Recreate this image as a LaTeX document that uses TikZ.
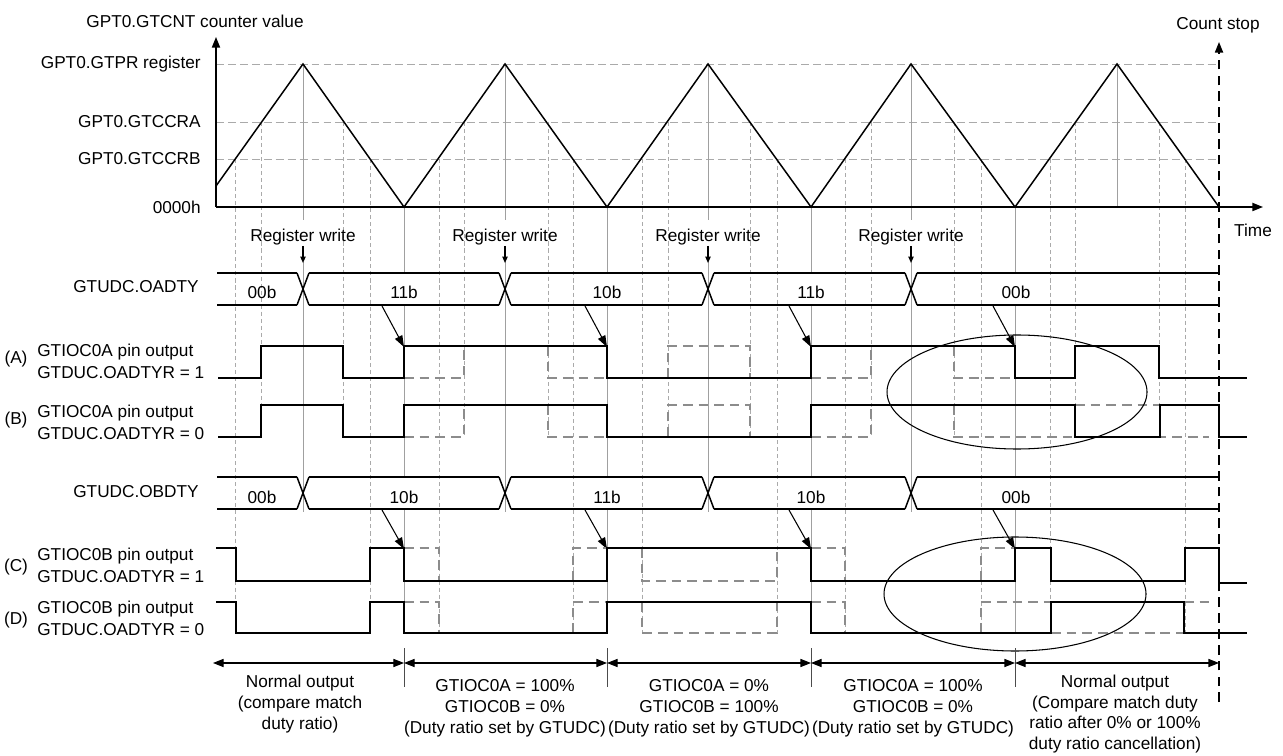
\documentclass[tikz,border=0pt]{standalone}
\usepackage{fontspec}
\setmainfont{Liberation Sans}
\usetikzlibrary{arrows.meta}
\definecolor{gridgray}{RGB}{160,160,160}
\definecolor{ghostgray}{RGB}{140,140,140}
\definecolor{refgray}{RGB}{170,170,170}
\begin{document}
\begin{tikzpicture}[x=0.02cm,y=-0.02cm,
  font=\fontsize{9.8}{12.4}\selectfont,
  wave/.style={line width=0.85pt, line join=miter},
  ghost/.style={draw=ghostgray, line width=0.85pt, dash pattern=on 5.5pt off 3.4pt},
  refline/.style={draw=refgray, line width=0.5pt, dash pattern=on 4.5pt off 2.3pt},
  gridsolid/.style={draw=gridgray, line width=0.55pt},
  griddash/.style={draw=refgray, line width=0.45pt, dash pattern=on 2.3pt off 1.7pt},
  axistip/.style={-{Triangle[length=6pt,width=4.6pt]}, line width=0.85pt},
  smalltip/.style={-{Triangle[length=3.6pt,width=3pt]}, line width=0.7pt},
  bustip/.style={-{Triangle[length=6.5pt,width=4.6pt]}, line width=0.6pt},
  rangearrow/.style={{Triangle[length=6pt,width=4.6pt]}-{Triangle[length=6pt,width=4.6pt]}, line width=0.6pt},
  lbl/.style={inner sep=0pt},
  block/.style={inner sep=0pt, align=center, font=\fontsize{9.8}{11.9}\selectfont}
]
\useasboundingbox (0,0) rectangle (1283,756);

% ---------- reference (dashed) horizontal levels
\foreach \yy in {64,122,159} {\draw[refline] (216,\yy) -- (1219,\yy);}

% ---------- vertical grid lines
% peaks (solid gray)
\foreach \p in {303,505,708,911} {
  \draw[gridsolid] (\p,64) -- (\p,220);
  \draw[gridsolid] (\p,262) -- (\p,512);
}
\draw[gridsolid] (1117,64) -- (1117,207);
% valleys (solid gray)
\foreach \v in {404,607,811,1015} {
  \draw[gridsolid] (\v,207) -- (\v,273);
  \draw[gridsolid] (\v,305) -- (\v,477);
  \draw[gridsolid] (\v,509) -- (\v,633);
}
% GTCCRA crossings
\foreach \x in {261,343,464,548,668,750,871,954,1075,1159} {\draw[griddash] (\x,122) -- (\x,437);}
% GTCCRB crossings
\foreach \x in {235,370,439,573,642,777,845,981,1050,1185} {\draw[griddash] (\x,159) -- (\x,633);}

% ---------- axes
\coordinate (origin) at (216,207);
\coordinate (ytop) at (216,37);
\coordinate (xend) at (1263,207);
\draw[axistip] (origin) -- (ytop);
\draw[axistip] (origin) -- (xend);

% count stop line
\coordinate (cstop) at (1219,42);
\coordinate (cbot) at (1219,702);
\draw[line width=0.85pt, dash pattern=on 5.5pt off 3.5pt, -{Triangle[length=6pt,width=4.6pt]}] (cbot) -- (cstop);

% counter triangle
\draw[wave] (216,186) -- (303,64) -- (404,207) -- (505,64) -- (607,207) -- (708,64)
  -- (811,207) -- (911,64) -- (1015,207) -- (1117,64) -- (1219,207);

% ---------- axis labels
\node[lbl] (cnt) at (195,21) {GPT0.GTCNT counter value};
\node[lbl, anchor=east] (gtpr) at (201,64) {GPT0.GTPR register};
\node[lbl, anchor=east] (ccra) at (201,122) {GPT0.GTCCRA};
\node[lbl, anchor=east] (ccrb) at (201,159) {GPT0.GTCCRB};
\node[lbl, anchor=east] (zero) at (201,207) {0000h};
\node[lbl] (cs) at (1218,25) {Count stop};
\node[lbl] (time) at (1253,230) {Time};

% ---------- register writes
\foreach \p/\n in {303/1,505/2,708/3,911/4} {
  \node[lbl] (rw\n) at (\p,237) {Register write};
  \coordinate (rwt\n) at (\p,263);
  \draw[smalltip] (\p,246) -- (rwt\n);
}

% ---------- buses
\foreach \t/\b in {273/305, 477/509} {
  \foreach \c in {303,505,708,911} {
    \draw[wave] (\c-6,\t) -- (\c+6,\b);
    \draw[wave] (\c-6,\b) -- (\c+6,\t);
  }
  \foreach \a/\e in {217/297, 309/499, 511/702, 714/905, 917/1219} {
    \draw[wave] (\a,\t) -- (\e,\t);
    \draw[wave] (\a,\b) -- (\e,\b);
  }
}
\node[lbl, anchor=east] (oadty) at (199,287) {GTUDC.OADTY};
\node[lbl, anchor=east] (obdty) at (199,492) {GTUDC.OBDTY};
\foreach \x/\s/\n in {262/00b/1, 404/11b/2, 607/10b/3, 811/11b/4, 1016/00b/5} {
  \node[lbl] (oa\n) at (\x,292) {\s};
}
\foreach \x/\s/\n in {262/00b/1, 404/10b/2, 607/11b/3, 811/10b/4, 1016/00b/5} {
  \node[lbl] (ob\n) at (\x,497) {\s};
}

% bus -> waveform arrows
\foreach \v/\n in {404/1,607/2,811/3,1015/4} {
  \coordinate (as\n) at (\v-22,306);
  \coordinate (ae\n) at (\v,347);
  \draw[bustip] (as\n) -- (ae\n);
  \coordinate (bs\n) at (\v-22,510);
  \coordinate (be\n) at (\v,549);
  \draw[bustip] (bs\n) -- (be\n);
}

% ---------- row labels
\node[lbl] (la) at (16,359) {(A)};
\node[lbl, anchor=west, align=left] (ta) at (37,361) {GTIOC0A pin output\\GTDUC.OADTYR = 1};
\node[lbl] (lb) at (16,420) {(B)};
\node[lbl, anchor=west, align=left] (tb) at (37,422) {GTIOC0A pin output\\GTDUC.OADTYR = 0};
\node[lbl] (lc) at (16,567) {(C)};
\node[lbl, anchor=west, align=left] (tc) at (37,565) {GTIOC0B pin output\\GTDUC.OADTYR = 1};
\node[lbl] (ld) at (16,620) {(D)};
\node[lbl, anchor=west, align=left] (td) at (37,618) {GTIOC0B pin output\\GTDUC.OADTYR = 0};

% ---------- ghost (expected compare-match) waveforms
% A
\draw[ghost] (404,378) -- (464,378) -- (464,346);
\draw[ghost] (548,346) -- (548,378) -- (607,378);
\draw[ghost] (668,378) -- (668,346) -- (750,346) -- (750,378);
\draw[ghost] (811,378) -- (871,378) -- (871,346);
\draw[ghost] (954,346) -- (954,378) -- (1015,378);
% B
\draw[ghost] (404,437) -- (464,437) -- (464,405);
\draw[ghost] (548,405) -- (548,437) -- (607,437);
\draw[ghost] (668,437) -- (668,405) -- (750,405) -- (750,437);
\draw[ghost] (811,437) -- (871,437) -- (871,405);
\draw[ghost] (954,405) -- (954,437) -- (1209,437);
\draw[ghost] (1075,405) -- (1160,405);
% C
\draw[ghost] (404,548) -- (439,548) -- (439,581);
\draw[ghost] (573,581) -- (573,548) -- (607,548);
\draw[ghost] (642,548) -- (642,581) -- (777,581) -- (777,548);
\draw[ghost] (811,548) -- (845,548) -- (845,581);
\draw[ghost] (981,581) -- (981,548) -- (1015,548);
% D
\draw[ghost] (404,602) -- (439,602) -- (439,633);
\draw[ghost] (573,633) -- (573,602) -- (607,602);
\draw[ghost] (642,602) -- (642,633) -- (777,633) -- (777,602);
\draw[ghost] (811,602) -- (845,602) -- (845,633);
\draw[ghost] (981,633) -- (981,602) -- (1051,602);
\draw[ghost] (1051,633) -- (1184,633);
\draw[ghost] (1184,602) -- (1209,602);

% ---------- actual waveforms
\draw[wave] (218,378) -- (261,378) -- (261,346) -- (343,346) -- (343,378) -- (404,378)
  -- (404,346) -- (607,346) -- (607,378) -- (811,378) -- (811,346) -- (1015,346)
  -- (1015,378) -- (1075,378) -- (1075,346) -- (1159,346) -- (1159,378) -- (1247,378);
\draw[wave] (218,437) -- (261,437) -- (261,405) -- (343,405) -- (343,437) -- (404,437)
  -- (404,405) -- (607,405) -- (607,437) -- (811,437) -- (811,405) -- (1075,405)
  -- (1075,437) -- (1160,437) -- (1160,405) -- (1219,405) -- (1219,437) -- (1247,437);
\draw[wave] (216,548) -- (236,548) -- (236,581) -- (370,581) -- (370,548) -- (404,548)
  -- (404,581) -- (607,581) -- (607,548) -- (811,548) -- (811,581) -- (1015,581)
  -- (1015,548) -- (1051,548) -- (1051,581) -- (1185,581) -- (1185,548) -- (1219,548)
  -- (1219,583) -- (1247,583);
\draw[wave] (216,602) -- (236,602) -- (236,633) -- (370,633) -- (370,602) -- (404,602)
  -- (404,633) -- (607,633) -- (607,602) -- (811,602) -- (811,633) -- (1051,633)
  -- (1051,602) -- (1184,602) -- (1184,633) -- (1247,633);

% ---------- ellipses
\draw[line width=0.6pt] (1017,392) ellipse [x radius=130, y radius=57];
\draw[line width=0.6pt] (1015,594) ellipse [x radius=131, y radius=57];

% ---------- bottom ranges
\coordinate (r0) at (213,663);
\foreach \v/\n in {404/1,607/2,811/3,1015/4} {
  \coordinate (r\n) at (\v,663);
  \draw[line width=0.5pt, draw=black!70] (\v,648) -- (\v,687);
}
\coordinate (r5) at (1219,663);
\draw[rangearrow] (r0) -- (r1);
\draw[rangearrow] (r1) -- (r2);
\draw[rangearrow] (r2) -- (r3);
\draw[rangearrow] (r3) -- (r4);
\draw[rangearrow] (r4) -- (r5);

\node[block] (b1) at (300,704) {Normal output\\(compare match\\duty ratio)};
\node[block] (b2) at (505,708) {GTIOC0A = 100\%\\GTIOC0B = 0\%\\(Duty ratio set by GTUDC)};
\node[block] (b3) at (709,708) {GTIOC0A = 0\%\\GTIOC0B = 100\%\\(Duty ratio set by GTUDC)};
\node[block] (b4) at (913,708) {GTIOC0A = 100\%\\GTIOC0B = 0\%\\(Duty ratio set by GTUDC)};
\node[block] (b5) at (1115,714) {Normal output\\(Compare match duty\\ratio after 0\% or 100\%\\duty ratio cancellation)};
\end{tikzpicture}
\end{document}
